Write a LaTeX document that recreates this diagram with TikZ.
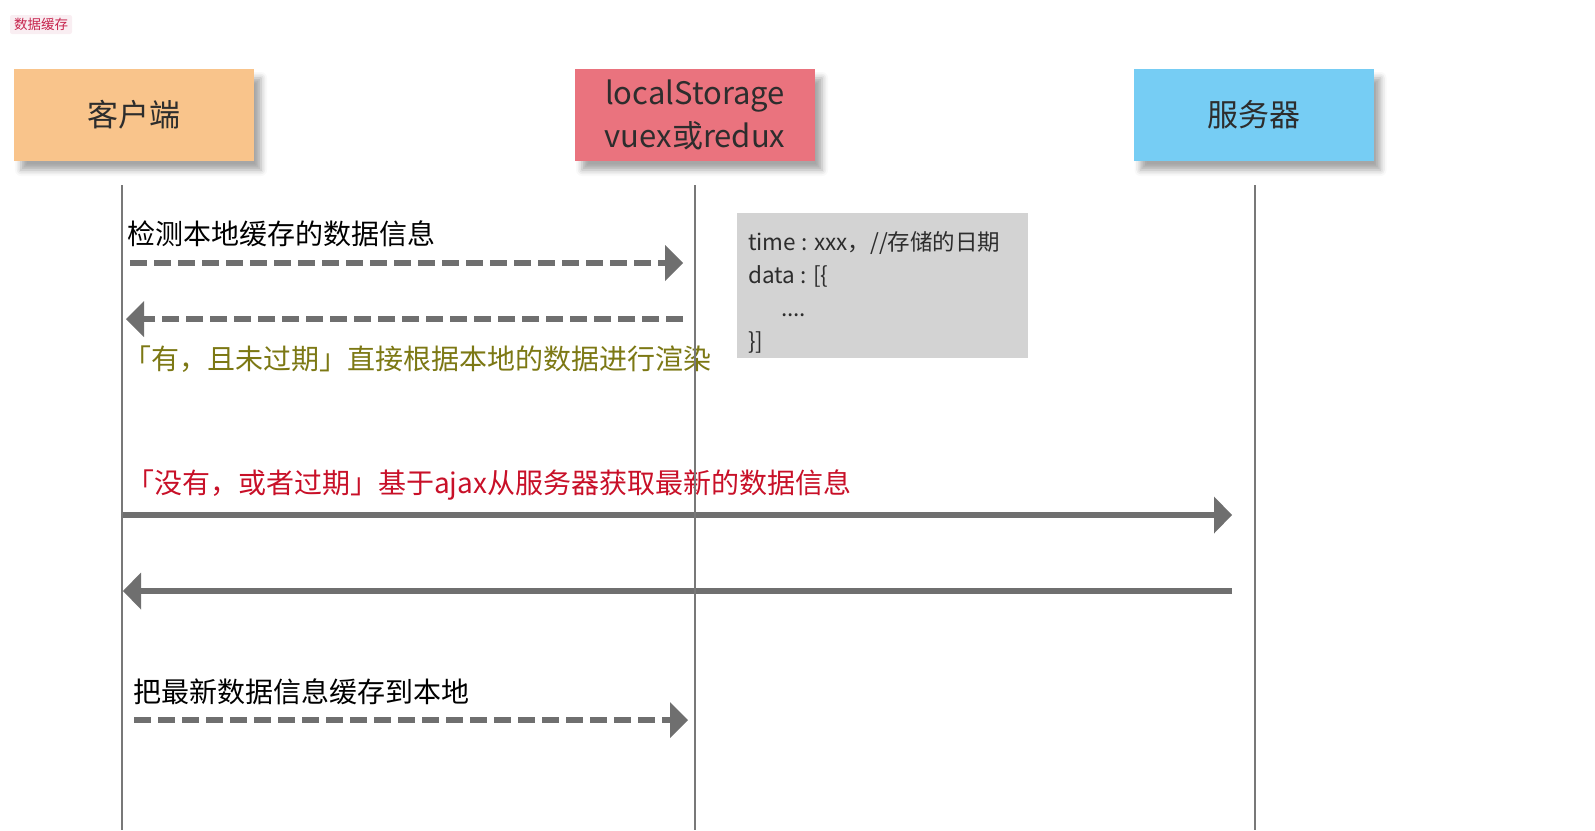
\documentclass[tikz,border=0pt]{standalone}
\usepackage{fontspec}
\setmainfont{Noto Sans CJK SC}
\usetikzlibrary{arrows.meta,shadows.blur}
\definecolor{clientc}{RGB}{249,196,139}
\definecolor{lsc}{RGB}{234,115,126}
\definecolor{serverc}{RGB}{118,205,244}
\definecolor{notec}{RGB}{211,211,211}
\definecolor{arrc}{RGB}{111,111,111}
\definecolor{lifec}{RGB}{120,120,120}
\definecolor{txt}{RGB}{45,45,45}
\definecolor{olivec}{RGB}{124,120,20}
\definecolor{redc}{RGB}{200,16,40}
\definecolor{tagbg}{RGB}{249,238,242}
\definecolor{tagfg}{RGB}{199,37,78}
\begin{document}
\begin{tikzpicture}[x=1pt,y=-1pt,
  actor/.style={minimum width=240pt,minimum height=92pt,inner sep=0pt,text=txt,
    font=\fontsize{31}{43}\selectfont,align=center,
    blur shadow={shadow xshift=7pt,shadow yshift=-9pt,shadow blur radius=6pt,shadow opacity=35}},
  life/.style={draw=lifec,line width=1.8pt},
  dasharrow/.style={draw=arrc,line width=6pt,dash pattern=on 17pt off 7pt,
    -{Triangle[length=18pt,width=36pt,line width=0pt]}},
  solidarrow/.style={draw=arrc,line width=6pt,
    -{Triangle[length=18pt,width=37pt,line width=0pt]}},
  lbl/.style={anchor=west,inner sep=0pt,text height=0.88em,text depth=0.12em,
    font=\fontsize{28}{33}\selectfont},
  notetxt/.style={anchor=west,inner sep=0pt,text height=0.88em,text depth=0.12em,
    font=\fontsize{22.5}{30}\selectfont,text=txt},
]
\useasboundingbox (0,0) rectangle (1595,830);

% tag
\node[fill=tagbg,rounded corners=2pt,minimum width=62pt,minimum height=19pt,inner sep=0pt,
  text=tagfg,font=\fontsize{13.5}{16}\selectfont] (tag) at (41,24.5) {数据缓存};

% actors
\node[actor,fill=clientc] (client) at (134,115) {客户端};
\node[actor,fill=lsc] (ls) at (695,115) {\raisebox{-2pt}{localStorage}\\\raisebox{-2pt}{vuex或redux}};
\node[actor,fill=serverc] (server) at (1253.5,115) {服务器};

% note
\node[fill=notec,minimum width=291pt,minimum height=145pt,inner sep=0pt] (note) at (882.5,285.5) {};
\node[notetxt] (n1) at (748,247) {time : xxx，//存储的日期};
\node[notetxt] (n2) at (748,280) {data : [\{};
\node[notetxt] (n3) at (781,313) {....};
\node[notetxt] (n4) at (748,346) {\}]};

% lifeline coordinates
\coordinate (c0) at (122,185);
\coordinate (c9) at (122,830);
\coordinate (l0) at (695,185);
\coordinate (l9) at (695,830);
\coordinate (s0) at (1255,185);
\coordinate (s9) at (1255,830);

% message endpoints
\coordinate (a1s) at (130,263);
\coordinate (a1e) at (683,263);
\coordinate (a2s) at (683,319);
\coordinate (a2e) at (126,319);
\coordinate (a3s) at (122,515);
\coordinate (a3e) at (1232,515);
\coordinate (a4s) at (1232,591);
\coordinate (a4e) at (123,591);
\coordinate (a5s) at (134,720);
\coordinate (a5e) at (688,720);

% labels
\node[lbl,text=black] (t1) at (127,241) {检测本地缓存的数据信息};
\node[lbl,text=olivec] (t2) at (123,366) {「有，且未过期」直接根据本地的数据进行渲染};
\node[lbl,text=redc] (t3) at (126,490) {「没有，或者过期」基于ajax从服务器获取最新的数据信息};
\node[lbl,text=black] (t5) at (133,699) {把最新数据信息缓存到本地};

% arrows
\draw[dasharrow] (a1s) -- (a1e);
\draw[dasharrow] (a2s) -- (a2e);
\draw[solidarrow] (a3s) -- (a3e);
\draw[solidarrow] (a4s) -- (a4e);
\draw[dasharrow] (a5s) -- (a5e);

% lifelines
\draw[life] (c0) -- (c9);
\draw[life] (l0) -- (l9);
\draw[life] (s0) -- (s9);
\end{tikzpicture}
\end{document}
